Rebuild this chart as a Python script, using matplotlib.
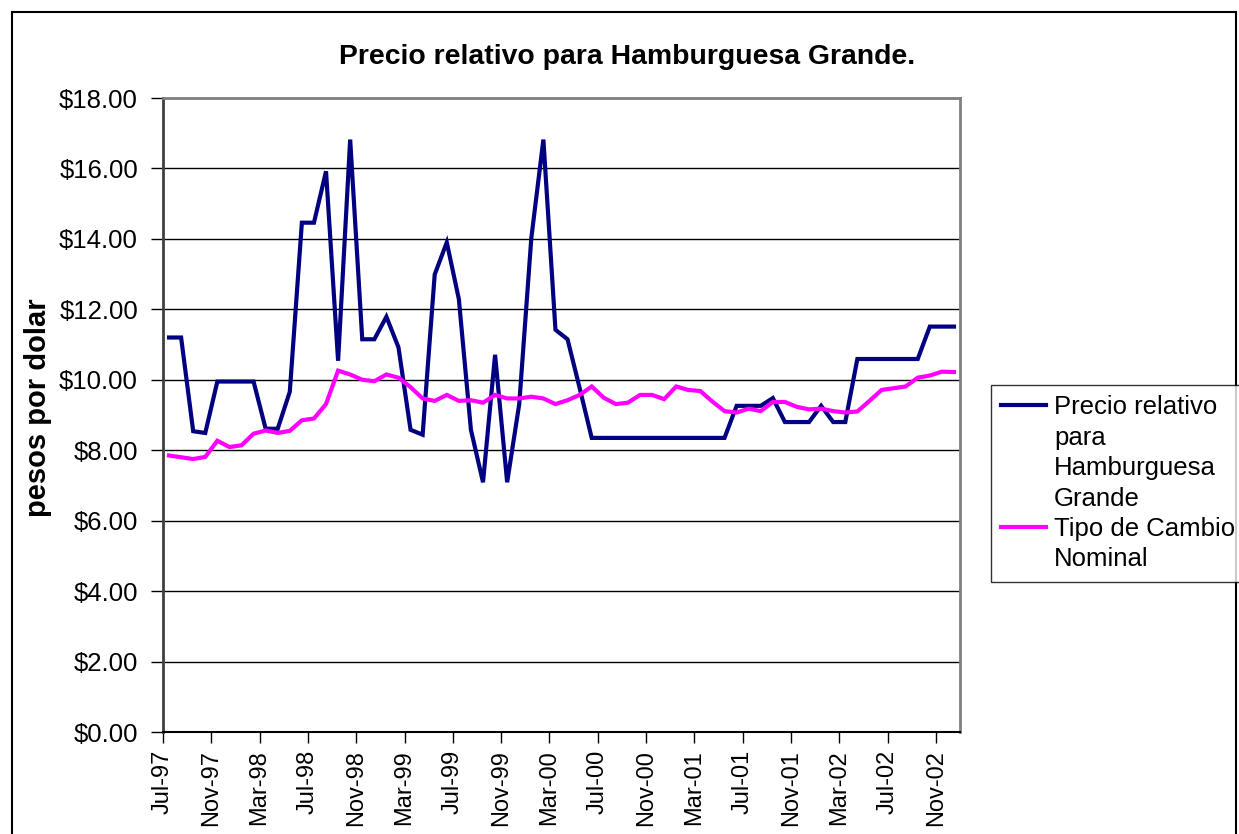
import matplotlib
matplotlib.use("Agg")
import matplotlib.pyplot as plt
from matplotlib.lines import Line2D
from matplotlib.patches import Rectangle
import numpy as np

plt.rcParams['font.family'] = ['Liberation Sans', 'DejaVu Sans']

# monthly data, Jul-97 .. Dec-02
precio_hamburguesa = [
    11.20, 11.20, 8.54, 8.49, 9.95, 9.95, 9.95, 9.95, 8.61, 8.61,
    9.66, 14.46, 14.46, 15.92, 10.54, 16.82, 11.15, 11.15, 11.79, 10.92,
    8.58, 8.44, 12.99, 13.90, 12.29, 8.58, 7.09, 10.71, 7.09, 9.31,
    14.02, 16.82, 11.42, 11.15, 9.77, 8.35, 8.35, 8.35, 8.35, 8.35,
    8.35, 8.35, 8.35, 8.35, 8.35, 8.35, 8.35, 9.26, 9.26, 9.26,
    9.48, 8.80, 8.80, 8.80, 9.26, 8.80, 8.80, 10.59, 10.59, 10.59,
    10.59, 10.59, 10.59, 11.51, 11.51, 11.51,
]
tipo_cambio = [
    7.85, 7.80, 7.75, 7.81, 8.27, 8.09, 8.14, 8.47, 8.56, 8.49,
    8.55, 8.85, 8.90, 9.31, 10.26, 10.15, 10.00, 9.96, 10.15, 10.06,
    9.79, 9.47, 9.40, 9.57, 9.40, 9.42, 9.35, 9.57, 9.47, 9.47,
    9.52, 9.47, 9.31, 9.42, 9.57, 9.81, 9.49, 9.31, 9.35, 9.57,
    9.57, 9.45, 9.81, 9.71, 9.68, 9.38, 9.11, 9.07, 9.18, 9.11,
    9.37, 9.37, 9.23, 9.16, 9.18, 9.11, 9.07, 9.10, 9.40, 9.71,
    9.76, 9.81, 10.06, 10.12, 10.23, 10.22,
]
tick_labels = ['Jul-97', 'Nov-97', 'Mar-98', 'Jul-98', 'Nov-98', 'Mar-99',
               'Jul-99', 'Nov-99', 'Mar-00', 'Jul-00', 'Nov-00', 'Mar-01',
               'Jul-01', 'Nov-01', 'Mar-02', 'Jul-02', 'Nov-02']

W, H = 1239, 834
fig = plt.figure(figsize=(W / 100, H / 100), dpi=100)
ax = fig.add_axes([163 / W, 1 - 732 / H, (960 - 163) / W, (732 - 98) / H])

x = np.arange(len(precio_hamburguesa))
ax.plot(x, precio_hamburguesa, color='#000080', lw=3, solid_joinstyle='miter')
ax.plot(x, tipo_cambio, color='#FF00FF', lw=3, solid_joinstyle='miter')

ax.set_xlim(-0.5, len(x) - 0.5)
ax.set_ylim(0, 18)
ax.set_yticks(np.arange(0, 19, 2))
ax.set_yticklabels(['${:.2f}'.format(v) for v in np.arange(0, 19, 2)])
ax.set_xticks(np.arange(0, len(x), 4) - 0.5)
ax.set_xticklabels(tick_labels, rotation=90)
ax.tick_params(axis='y', labelsize=18.5, length=9, width=1, pad=9, colors='black')
ax.tick_params(axis='x', labelsize=17, length=8, width=1, pad=5, colors='black')
ax.yaxis.grid(True, color='black', lw=1)
ax.set_axisbelow(True)

for s in ['top', 'right']:
    ax.spines[s].set_color('#808080')
    ax.spines[s].set_linewidth(2)
ax.spines['left'].set_color('#404040')
ax.spines['left'].set_linewidth(2)
ax.spines['bottom'].set_color('black')
ax.spines['bottom'].set_linewidth(1.5)

fig.text(627 / W, 1 - 57 / H, 'Precio relativo para Hamburguesa Grande.',
         ha='center', va='center', fontsize=20.4, fontweight='bold')
fig.text(38 / W, 1 - 408 / H, 'pesos por dolar', rotation=90,
         ha='center', va='center', fontsize=21, fontweight='bold')

# legend
blank = Line2D([], [], color='none')
handles = [Line2D([], [], color='#000080', lw=3), blank, blank, blank,
           Line2D([], [], color='#FF00FF', lw=3), blank]
labels = ['Precio relativo', 'para', 'Hamburguesa', 'Grande',
          'Tipo de Cambio', 'Nominal']
leg = fig.legend(handles, labels, loc='upper left',
                 bbox_to_anchor=(991 / W, 1 - 385 / H), borderaxespad=0,
                 fontsize=18.5, frameon=True, fancybox=False, shadow=False,
                 handlelength=1.75, handletextpad=0.3, labelspacing=0.25,
                 borderpad=0.4)
leg.get_frame().set_edgecolor('black')
leg.get_frame().set_linewidth(1)

# chart border
fig.patches.append(Rectangle((12 / W, -0.1), (1236 - 12) / W, 0.1 + 1 - 12 / H,
                             transform=fig.transFigure, fill=False,
                             edgecolor='black', lw=1.5))

fig.savefig('out.png', dpi=100)
